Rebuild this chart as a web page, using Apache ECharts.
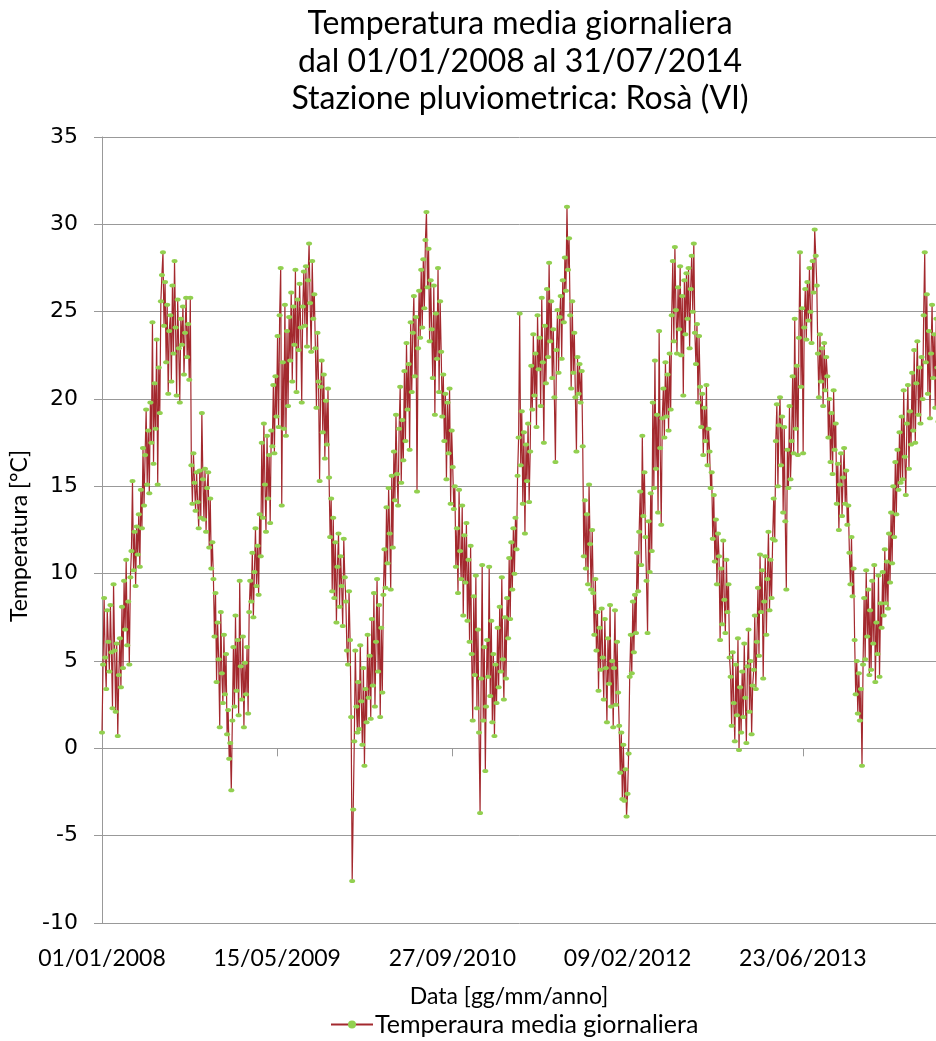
<!DOCTYPE html>
<html>
<head>
<meta charset="utf-8">
<script src="https://cdn.jsdelivr.net/npm/echarts@6/dist/echarts.min.js"></script>
<style>
  html, body { margin: 0; padding: 0; background: #ffffff; }
  #chart { width: 936px; height: 1041px; }
</style>
</head>
<body>
<div id="chart"></div>
<script>
// Daily mean temperature (°C), one reading every third day from 1 January of each year.
const STEP = 3;
const t2008 = [
  0.9, 4.8, 8.6, 5.2, 3.4, 7.9, 6.1, 4.4, 8.2, 5.5, 2.3,
  9.4, 5.6, 2.1, 6.0, 0.7, 4.2, 6.3, 3.5, 8.1,
  4.6, 9.6, 6.8, 10.8, 5.9, 8.4, 4.8, 9.8, 11.3, 15.3, 10.2,
  12.4, 9.3, 12.7, 11.1, 13.4, 10.4, 14.8, 12.6, 17.2, 13.9,
  16.8, 19.4, 15.1, 18.2, 14.6, 19.8, 17.5, 24.4, 16.3, 20.9,
  18.3, 23.4, 15.1, 21.8, 19.2, 25.6, 27.1, 28.4, 24.2, 26.7,
  22.1, 25.4, 20.3, 23.9, 24.8, 21.0, 26.5, 22.6, 27.9, 24.1,
  20.2, 25.7, 22.9, 19.8, 24.6, 23.1, 25.3, 21.4, 23.8, 25.8,
  22.4, 24.3, 21.1, 25.8, 16.2, 14.0, 16.9, 15.2, 13.6, 15.8,
  14.1, 12.6, 15.9, 13.2, 19.2, 15.4, 13.1, 16.0, 12.4, 14.9, 15.8,
  11.5, 14.3, 10.3, 11.8, 9.7, 6.4, 8.9, 3.8, 7.2, 5.1,
  1.2, 7.8, 4.3, 2.6, 6.5, 3.1, 5.4, 0.8, 2.2, -0.6
];
const t2009 = [
  0.3, -2.4, 1.6, 5.8, 2.4, 7.6, 3.3, 6.2, 1.9, 9.6, 4.7,
  2.8, 6.4, 1.2, 4.9, 3.1, 5.8, 2.0, 7.8, 9.6,
  8.4, 11.2, 7.5, 10.1, 12.6, 9.3, 11.6, 8.8, 13.4, 11.0,
  17.5, 13.2, 18.6, 15.1, 12.4, 17.9, 14.3, 16.8, 12.9, 18.2,
  17.3, 20.8, 16.9, 21.3, 19.0, 23.6, 18.4, 24.8, 27.5, 13.9, 22.1,
  18.3, 25.4, 17.9, 23.9, 19.6, 24.7, 22.2, 26.1, 21.0, 25.3,
  23.1, 27.4, 20.4, 25.7, 22.8, 26.6, 24.1, 19.8, 25.3, 27.3,
  24.2, 27.6, 23.0, 26.8, 28.9, 25.5, 22.7, 27.9, 24.6, 26.0,
  22.9, 19.5, 23.8, 21.0, 15.3, 20.7,
  22.2, 18.1, 21.4, 16.6, 19.9, 17.4, 20.6,
  15.5, 12.1, 14.3, 9.0, 13.2,
  8.6, 11.8, 7.2, 10.4, 12.3, 8.1, 11.0, 9.3, 7.0, 12.0, 9.8, 8.4,
  5.6, 4.8, 9.0, 6.2,
  1.8, -7.6, -3.5, 0.4, 5.6, 2.4, 0.9
];
const t2010 = [
  3.8, 1.1, 5.9, 2.7, 0.2, 4.6, -1.0, 3.4, 1.5, 6.5, 2.9,
  5.3, 1.7, 7.4, 3.6, 8.9, 2.4, 6.1, 9.7, 4.4,
  8.2, 1.8, 6.9, 3.2, 8.8, 11.4, 9.2, 13.8, 10.6, 14.9,
  12.3, 9.1, 15.6, 11.5, 17.0, 14.2, 19.1, 15.7, 13.9, 18.3,
  20.7, 15.2, 18.8, 16.5, 21.6, 17.6, 23.2, 19.4, 22.0, 17.1, 24.4,
  20.4, 23.8, 25.9, 21.3, 24.7, 14.7, 22.9, 26.2, 23.5, 27.4,
  24.1, 28.0, 25.2, 29.1, 30.7, 26.4, 28.6, 23.3, 26.8, 24.0,
  21.2, 26.5, 19.1, 24.9, 22.3, 27.5, 20.4, 25.6, 22.7, 19.0,
  21.4, 17.6, 20.3, 15.4, 19.8, 16.9, 20.6, 14.0, 18.2, 16.1,
  13.7, 15.0, 10.4, 12.6, 8.9, 14.8, 11.3, 9.7, 13.9, 7.6, 12.2,
  9.5, 12.9, 7.3, 10.8, 6.1, 11.6, 5.4, 1.6, 8.7,
  4.2, 9.9, 2.3, 6.8, 0.9, -3.7, 4.0, 10.5, 1.6, 5.8, -1.3
];
const t2011 = [
  2.4, 6.2, 4.1, 10.4, 3.0, 7.3, 1.5, 5.4, 0.7, 4.8, 2.6,
  6.9, 3.5, 8.1, 4.4, 9.8, 5.1, 2.8, 7.5, 4.0,
  8.6, 6.3, 10.9, 7.4, 11.8, 9.1, 12.6, 10.0, 13.2, 11.4,
  15.6, 17.8, 24.9, 16.2, 19.3, 14.0, 18.1, 12.3, 17.4, 15.3,
  18.6, 14.1, 17.0, 21.9, 19.4, 23.7, 20.2, 22.6, 18.4, 24.8, 21.7,
  23.5, 19.6, 25.8, 22.1, 17.5, 24.2, 20.9, 26.3, 22.4, 27.8,
  23.3, 25.6, 21.2, 24.0, 20.1, 16.4, 22.8, 25.1, 21.5, 24.7,
  25.9, 22.3, 26.8, 24.4, 28.1, 26.2, 31.0, 27.4, 29.2, 24.8,
  20.6, 25.6, 21.5, 23.8, 20.1, 17.0, 22.4, 20.3, 22.0, 19.8,
  21.6, 17.3, 11.0, 14.2, 10.3, 13.4, 9.4, 15.1, 11.7, 9.1, 12.5,
  8.9, 6.5, 9.7, 5.6, 7.8, 3.3, 6.9, 4.5, 8.0,
  5.2, 2.8, 7.4, 4.6, 1.5, 6.3, 3.7, 8.2, 2.4, 5.0, 1.2
];
const t2012 = [
  4.6, 7.9, 2.5, 6.1, 3.2, 1.3, -1.4, 0.9, -2.9, 0.2, -3.0,
  -1.2, -3.9, -2.6, -0.3, 4.1, 6.5, 4.3, 8.4, 5.5,
  8.8, 6.6, 11.2, 9.0, 12.4, 14.7, 10.5, 17.9, 13.3, 15.8, 12.1,
  9.6, 6.6, 13.0, 10.1, 14.6, 11.3, 19.8, 14.9, 22.2, 16.0,
  19.1, 13.5, 23.9, 17.2, 12.8, 18.9, 20.6, 17.8, 22.1, 19.0,
  21.4, 18.2, 22.6, 19.4, 24.8, 27.9, 23.3, 28.7, 25.1, 22.6,
  26.4, 24.0, 27.6, 22.5, 25.9, 20.2, 26.8, 23.7, 27.2, 24.6,
  27.5, 22.9, 26.3, 28.2, 25.0, 28.9, 23.8, 22.0, 24.3, 19.8,
  23.6, 20.7, 18.4, 20.3, 16.8, 19.5, 17.6, 20.8, 16.2, 18.3,
  17.0, 14.9, 15.8, 12.0, 14.5, 10.7, 13.1, 9.4, 12.3, 11.0, 6.2,
  10.3, 7.1, 11.9, 8.5, 6.6, 10.8, 7.8, 9.4, 5.2,
  4.1, 1.3, 5.5, 2.6, 0.4, 4.8, 1.9, 6.3, -0.1, 3.5, 0.9
];
const t2013 = [
  4.4, 1.8, 6.0, 2.9, 0.3, 4.7, 6.8, 2.1, 5.0, 0.8, 3.6,
  4.5, 7.6, 3.4, 6.1, 9.2, 5.3, 11.1, 7.8, 10.2,
  4.0, 8.4, 11.0, 6.5, 9.7, 12.4, 7.9, 10.8, 8.6, 12.0,
  14.3, 11.9, 17.6, 19.7, 15.0, 18.5, 20.1, 16.2, 19.0, 13.5,
  18.4, 13.0, 9.1, 17.1, 14.9, 19.6, 15.4, 17.6, 21.3, 16.9, 24.6,
  18.3, 21.9, 16.8, 23.5, 28.4, 20.7, 25.2, 16.9, 24.1, 26.3,
  23.4, 26.7, 24.5, 27.5, 25.0, 23.2, 27.9, 26.1, 29.7, 28.2,
  26.5, 22.6, 20.1, 23.7, 21.0, 22.9, 19.6, 23.2, 20.5, 22.4,
  21.3, 17.8, 20.0, 16.4, 19.2, 15.7, 20.5, 17.1, 18.6, 14.0,
  16.3, 12.5, 15.1, 16.9, 13.3, 15.5, 17.2, 14.0, 15.9, 12.8, 13.9,
  11.2, 9.4, 12.1, 8.7, 10.3, 6.2, 3.1, 5.0, 2.0,
  4.3, 1.6, 3.4, -1.0, 4.8, 8.6, 5.1, 10.2, 6.4, 9.1, 4.2
];
const t2014 = [
  7.9, 4.5, 9.6, 6.0, 10.5, 3.8, 7.2, 5.4, 9.9, 4.1, 8.3,
  6.9, 10.1, 7.6, 11.4, 8.3, 10.7, 8.0, 12.3, 9.5,
  13.5, 10.6, 15.0, 12.1, 16.4, 13.4, 17.1, 14.8, 18.1, 15.2,
  19.0, 15.4, 20.5, 16.7, 14.5, 18.6, 20.8, 16.0, 19.3, 17.4,
  21.5, 18.2, 22.8, 17.5, 20.9, 23.3, 19.1, 21.8, 18.6, 22.4, 20.0,
  24.8, 28.4, 22.1, 26.0, 20.3, 23.9, 18.9, 22.6, 25.4, 21.2,
  23.7, 19.5, 24.6, 21.8, 18.7, 23.0, 20.4, 24.2, 21.1, 22.5
];

const years = [2008, 2009, 2010, 2011, 2012, 2013, 2014];
const yearValues = [t2008, t2009, t2010, t2011, t2012, t2013, t2014];

const seriesName = 'Temperaura media giornaliera';
const titleLines = [
  'Temperatura media giornaliera',
  'dal 01/01/2008 al 31/07/2014',
  'Stazione pluviometrica: Rosà (VI)'
];
const xAxisTitle = 'Data [gg/mm/anno]';
const yAxisTitle = 'Temperatura [°C]';

// The x axis counts days from 01/01/2008 up to 31/07/2014.
const DAY_MS = 86400000;
const START_MS = Date.UTC(2008, 0, 1);
const END_DAY = Math.round((Date.UTC(2014, 6, 31) - START_MS) / DAY_MS);
const LABEL_EVERY_DAYS = 500;
const Y_MIN = -10, Y_MAX = 35, Y_STEP = 5;

const points = [];
years.forEach((y, k) => {
  const offset = Math.round((Date.UTC(y, 0, 1) - START_MS) / DAY_MS);
  yearValues[k].forEach((v, i) => points.push([offset + i * STEP, v]));
});

function pad(n) { return (n < 10 ? '0' : '') + n; }
function dayLabel(d) {
  const dt = new Date(START_MS + d * DAY_MS);
  return pad(dt.getUTCDate()) + '/' + pad(dt.getUTCMonth() + 1) + '/' + dt.getUTCFullYear();
}

const chart = echarts.init(document.getElementById('chart'), null, { renderer: 'canvas' });
const grey = '#999999';
const textFont = 'Lato';

chart.setOption({
  animation: false,
  backgroundColor: '#ffffff',
  title: {
    text: titleLines.join('\n'),
    left: 515,
    top: 0,
    textAlign: 'center',
    textStyle: {
      fontFamily: textFont, fontSize: 32, fontWeight: 'normal',
      color: '#000000', lineHeight: 37.5
    }
  },
  legend: {
    left: 325,
    top: 1007,
    itemWidth: 42,
    itemHeight: 10,
    itemGap: 0,
    textStyle: { fontFamily: textFont, fontSize: 25, color: '#000000', padding: [0, 0, 0, -3] },
    data: [seriesName]
  },
  // The plot runs a few pixels past the right edge of the canvas, so the last weeks are cut off.
  grid: {
    left: 102, right: -8, top: 137, bottom: 118,
    containLabel: false,
    outerBoundsMode: 'none'
  },
  xAxis: {
    type: 'value',
    min: 0,
    max: END_DAY,
    interval: LABEL_EVERY_DAYS,
    name: xAxisTitle,
    nameLocation: 'middle',
    nameGap: 62,
    nameTextStyle: { fontFamily: textFont, fontSize: 23, color: '#000000', padding: [0, 28, 0, 0] },
    axisLine: { show: true, lineStyle: { color: grey, width: 1 } },
    axisTick: { show: true, length: 8, lineStyle: { color: grey } },
    splitLine: { show: false },
    axisLabel: {
      showMaxLabel: false,
      margin: 24,
      fontFamily: textFont, fontSize: 23, color: '#000000',
      formatter: v => (v % LABEL_EVERY_DAYS === 0 ? dayLabel(v) : '')
    }
  },
  yAxis: {
    type: 'value',
    min: Y_MIN,
    max: Y_MAX,
    interval: Y_STEP,
    name: yAxisTitle,
    nameLocation: 'middle',
    nameGap: 64,
    nameTextStyle: { fontFamily: textFont, fontSize: 23, color: '#000000', padding: [0, 12, 0, 0] },
    axisLine: { show: true, lineStyle: { color: grey, width: 1 } },
    axisTick: { show: true, length: 8, lineStyle: { color: grey } },
    splitLine: { show: true, lineStyle: { color: grey, width: 1 } },
    axisLabel: {
      margin: 24,
      fontFamily: 'DejaVu Sans', fontSize: 22, color: '#000000'
    }
  },
  series: [{
    name: seriesName,
    type: 'line',
    data: points,
    showSymbol: true,
    symbol: 'circle',
    symbolSize: [6, 4],
    itemStyle: { color: '#92d050', borderWidth: 0 },
    lineStyle: { color: '#a3292e', width: 1.2 },
    emphasis: { disabled: true }
  }]
});
</script>
</body>
</html>
